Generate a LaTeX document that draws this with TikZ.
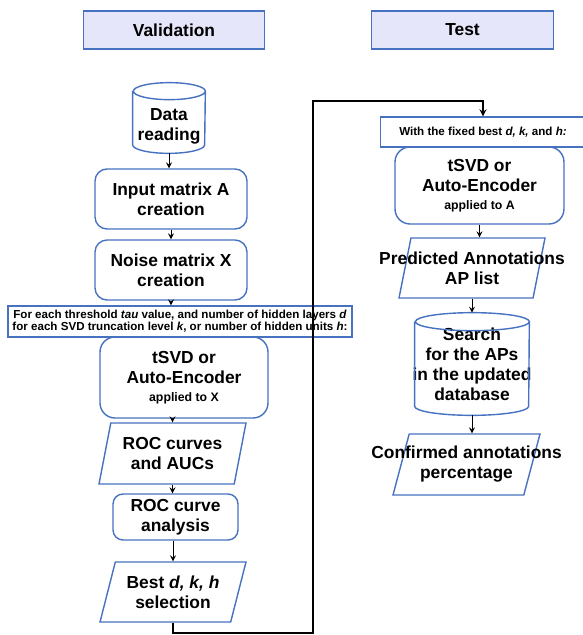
\documentclass[tikz,border=0pt]{standalone}
\usepackage{fontspec}
\setmainfont{Liberation Sans}
\usetikzlibrary{shapes,arrows,positioning,calc}

\definecolor{edgeblue}{RGB}{70,114,192}
\definecolor{headfill}{RGB}{230,230,250}
\newcommand{\overhang}[1]{\makebox[0pt]{#1}}
% database outline round a (not drawn) node: node, x radius, y radius
\newcommand{\drawdb}[3]{%
  \draw[draw=edgeblue, line width=0.8pt] ([yshift=-#3]#1.north west) -- ([yshift=#3]#1.south west)
    arc[start angle=180, end angle=360, x radius=#2, y radius=#3]
    -- ([yshift=-#3]#1.north east)
    arc[start angle=0, end angle=360, x radius=#2, y radius=#3];}

\begin{document}
\begin{tikzpicture}[
    x=0.02cm, y=-0.02cm,
    head/.style={draw=edgeblue, fill=headfill, line width=0.8pt, minimum width=3.63cm, minimum height=0.76cm, font=\bfseries\fontsize{9.9}{11.4}\selectfont},
    proc/.style={draw=edgeblue, line width=0.8pt, rounded corners=0.24cm, align=center, inner sep=0pt, font=\bfseries\fontsize{9.9}{11.4}\selectfont},
    io/.style={trapezium, trapezium left angle=70, trapezium right angle=110, trapezium stretches body=true, draw=edgeblue, line width=0.8pt, align=center, inner sep=0pt, font=\bfseries\fontsize{9.9}{11.4}\selectfont},
    dbbox/.style={rectangle, align=center, inner sep=0pt, font=\bfseries\fontsize{9.9}{11.4}\selectfont},
    note/.style={draw=edgeblue, fill=white, line width=0.8pt, align=center, inner sep=0pt, font=\bfseries\fontsize{6.6}{7}\selectfont},
    edge/.style={-stealth, draw=black, line width=0.5pt},
]
\useasboundingbox (0,0) rectangle (582,635);

% Headers
\node[head] (valhead) at (174, 30) {Validation};
\node[head] (testhead) at (462.5, 30) {Test};

% Validation column
\node[dbbox, minimum width=1.44cm, minimum height=1.4cm] (data) at (169, 118) {{}\\[4.8pt]Data\\reading};
\drawdb{data}{0.72cm}{0.17cm}
\node[proc, minimum width=3.04cm, minimum height=1.2cm] (inA) at (171, 199) {Input matrix A\\creation};
\node[proc, minimum width=3.04cm, minimum height=1.2cm] (noiseX) at (171, 270) {Noise matrix X\\creation};
\node[note, minimum width=6.88cm, minimum height=0.62cm] (loop) at (180, 321.5)
  {For each threshold \textit{tau} value, and number of hidden layers \textit{d}\\
   for each SVD truncation level \textit{k}, or number of hidden units \textit{h}:};
\node[proc, rounded corners=0.3cm, minimum width=3.36cm, minimum height=1.62cm] (tsvdX) at (184, 377.5)
  {tSVD or\\Auto-Encoder\\[-1pt]{\fontsize{7}{8}\selectfont applied to X}};
\node[io, minimum width=2.94cm, minimum height=1.22cm] (roc) at (172.5, 453.5) {ROC curves\\and AUCs};
\node[proc, rounded corners=0.2cm, minimum width=2.5cm, minimum height=0.92cm] (rocana) at (175.5, 517) {ROC curve\\analysis};
\node[io, trapezium left angle=65, trapezium right angle=115, minimum width=2.92cm, minimum height=1.2cm] (best) at (173, 592)
  {Best \textit{d, k, h}\\selection};

% Test column
\node[note, minimum width=4.1cm, minimum height=0.6cm] (withbox) at (483, 132) {With the fixed best \textit{d, k,} and \textit{h:}};
\node[proc, rounded corners=0.3cm, minimum width=3.38cm, minimum height=1.54cm] (tsvdA) at (479.5, 185.5)
  {tSVD or\\Auto-Encoder\\[-1pt]{\fontsize{7}{8}\selectfont applied to A}};
\node[io, minimum width=2.92cm, minimum height=1.2cm] (pred) at (472, 268)
  {\overhang{Predicted Annotations}\\\overhang{AP list}};
\node[dbbox, minimum width=2.28cm, minimum height=2.04cm] (search) at (472, 364)
  {Search\\for the APs\\\overhang{in the updated}\\database};
\drawdb{search}{1.14cm}{0.18cm}
\node[io, trapezium left angle=66, trapezium right angle=114, minimum width=2.94cm, minimum height=1.22cm] (conf) at (466.5, 464.5)
  {\overhang{Confirmed annotations}\\\overhang{percentage}};

% Connectors
\draw[edge] (data.south) -- (data.south |- inA.north);
\draw[edge] (inA) -- (inA |- noiseX.north);
\draw[edge] (noiseX) -- (noiseX |- loop.north);
\draw[edge] (roc |- tsvdX.south) -- (roc.north);
\draw[edge] (roc.south) -- (roc.south |- rocana.north);
\draw[edge] (rocana.south -| best.north) -- (best.north);

\coordinate (lowbend) at (313, 633);
\coordinate (highbend) at (313, 101);
\draw[edge, line width=0.75pt] (best.south) |- (lowbend) -- (highbend) -| (withbox.north);

\draw[edge] (tsvdA) -- (tsvdA |- pred.north);
\draw[edge] (pred.south) -- (pred.south |- search.north);
\draw[edge] (search.south) -- (search.south |- conf.north);

\end{tikzpicture}
\end{document}
